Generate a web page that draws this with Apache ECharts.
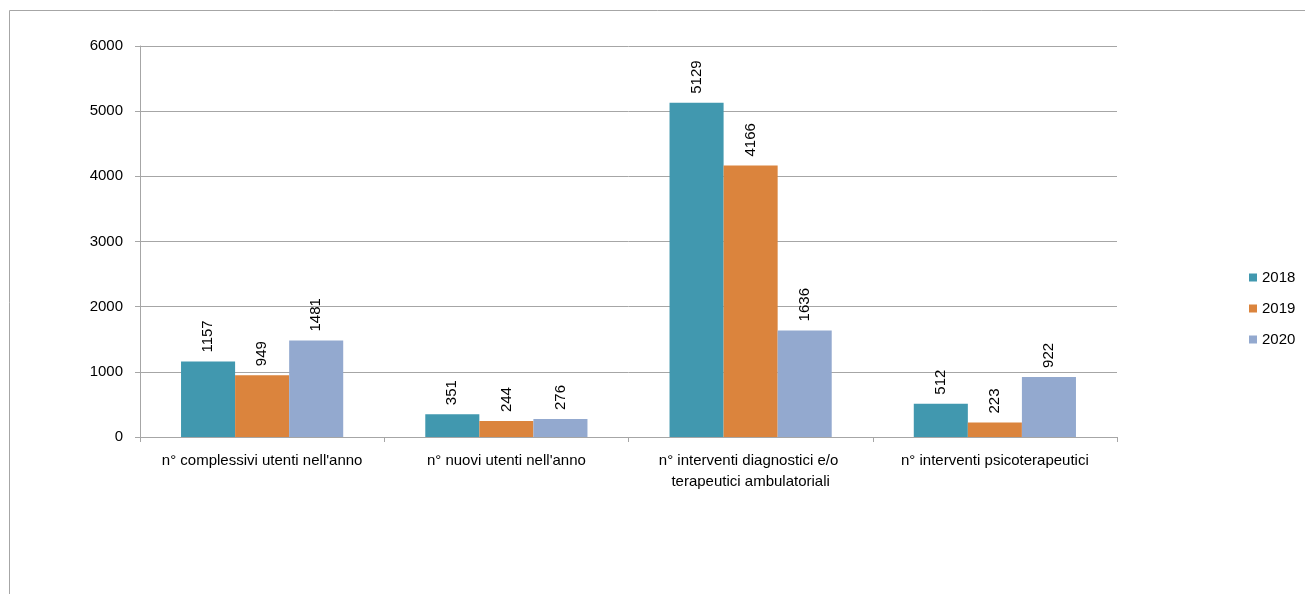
<!DOCTYPE html>
<html>
<head>
<meta charset="utf-8">
<script src="https://cdn.jsdelivr.net/npm/echarts@6/dist/echarts.min.js"></script>
<style>
html,body{margin:0;padding:0;background:#fff;}
#chart{width:1305px;height:594px;}
</style>
</head>
<body>
<div id="chart"></div>
<script>
const categories = [
  "n° complessivi utenti nell'anno",
  "n° nuovi utenti nell'anno",
  "n° interventi diagnostici e/o terapeutici ambulatoriali",
  "n° interventi psicoterapeutici"
];
const seriesNames = ["2018", "2019", "2020"];
const values2018 = [1157, 351, 5129, 512];
const values2019 = [949, 244, 4166, 223];
const values2020 = [1481, 276, 1636, 922];
const colors = ["#4198AF", "#DB843D", "#93A9CF"];

const FONT = "Liberation Sans";
const FS = 15;
const chart = echarts.init(document.getElementById('chart'), null, {renderer: 'canvas'});
const allValues = [values2018, values2019, values2020];

chart.setOption({
  animation: false,
  backgroundColor: '#ffffff',
  textStyle: {fontFamily: FONT},
  graphic: [{
    type: 'rect',
    shape: {x: 9.5, y: 10.5, width: 1400, height: 700},
    style: {fill: 'none', stroke: '#a6a6a6', lineWidth: 1},
    silent: true
  }],
  grid: {left: 140, top: 46, right: 188, bottom: 157, containLabel: false},
  legend: {
    orient: 'vertical',
    left: 1244,
    top: 265,
    itemWidth: 8,
    itemHeight: 8,
    itemGap: 16,
    icon: 'rect',
    textStyle: {fontFamily: FONT, fontSize: FS, color: '#000'},
    data: seriesNames
  },
  xAxis: {
    type: 'category',
    data: categories,
    axisLine: {lineStyle: {color: '#a6a6a6', width: 1}},
    axisTick: {show: true, length: 5, lineStyle: {color: '#a6a6a6'}},
    axisLabel: {
      interval: 0,
      margin: 13,
      fontFamily: FONT,
      fontSize: FS,
      color: '#000',
      width: 226,
      overflow: 'break',
      lineHeight: 21
    }
  },
  yAxis: {
    type: 'value',
    min: 0,
    max: 6000,
    interval: 1000,
    axisLine: {show: true, lineStyle: {color: '#a6a6a6', width: 1}},
    axisTick: {show: true, length: 5, lineStyle: {color: '#a6a6a6'}},
    axisLabel: {margin: 17, fontFamily: FONT, fontSize: FS, color: '#000', formatter: v => String(v)},
    splitLine: {lineStyle: {color: '#a6a6a6', width: 1}}
  },
  series: seriesNames.map((n, i) => ({
    name: n,
    type: 'bar',
    data: allValues[i],
    barGap: '0%',
    barCategoryGap: '33.6%',
    itemStyle: {color: colors[i]},
    label: {
      show: true,
      position: 'top',
      rotate: 90,
      align: 'left',
      verticalAlign: 'middle',
      distance: 9,
      fontFamily: FONT,
      fontSize: FS,
      color: '#000'
    }
  }))
});
</script>
</body>
</html>
